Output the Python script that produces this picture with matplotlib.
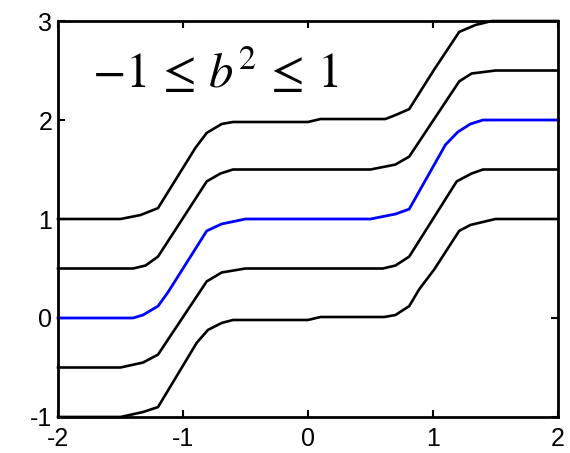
import matplotlib.pyplot as plt

plt.rcParams['font.family'] = 'Liberation Sans'
plt.rcParams['axes.unicode_minus'] = False
plt.rcParams['mathtext.fontset'] = 'stix'

# five staircase curves, offsets 1, 0.5, 0, -0.5, -1
x_top = [-2, -1.5, -1.34, -1.2, -0.9, -0.81, -0.69, -0.6, 0.0, 0.1, 0.62, 0.7, 0.81, 1.01, 1.21, 1.34, 1.47, 2]
y_top = [1, 1, 1.04, 1.11, 1.72, 1.87, 1.96, 1.98, 1.98, 2.01, 2.01, 2.05, 2.11, 2.51, 2.89, 2.96, 3.0, 3.0]

x_up = [-2, -1.4, -1.3, -1.2, -0.81, -0.7, -0.6, 0.5, 0.7, 0.81, 1.21, 1.31, 1.5, 2]
y_up = [0.5, 0.5, 0.53, 0.62, 1.38, 1.46, 1.5, 1.5, 1.55, 1.63, 2.39, 2.47, 2.5, 2.5]

x_mid = [-2, -1.4, -1.32, -1.2, -1.12, -0.81, -0.69, -0.5, 0.5, 0.7, 0.81, 1.1, 1.2, 1.3, 1.4, 2]
y_mid = [0, 0, 0.03, 0.12, 0.26, 0.88, 0.95, 1.0, 1.0, 1.05, 1.1, 1.75, 1.88, 1.96, 2.0, 2.0]

x_dn = [-2, -1.5, -1.32, -1.2, -0.81, -0.69, -0.5, 0.6, 0.7, 0.81, 1.19, 1.31, 1.4, 2]
y_dn = [-0.5, -0.5, -0.45, -0.37, 0.37, 0.46, 0.5, 0.5, 0.53, 0.62, 1.38, 1.46, 1.5, 1.5]

x_bot = [-2, -1.5, -1.32, -1.2, -0.89, -0.8, -0.69, -0.6, 0.0, 0.1, 0.61, 0.7, 0.81, 0.89, 1.01, 1.21, 1.3, 1.5, 2]
y_bot = [-1, -1, -0.95, -0.9, -0.25, -0.12, -0.05, -0.02, -0.02, 0.01, 0.01, 0.03, 0.12, 0.29, 0.49, 0.88, 0.94, 1.0, 1.0]

xticks = [-2, -1, 0, 1, 2]
yticks = [-1, 0, 1, 2, 3]

fig = plt.figure(figsize=(5.7, 4.53), dpi=100)
ax = fig.add_axes([0.1018, 0.0795, 0.877, 0.8741])

for xs, ys in [(x_top, y_top), (x_up, y_up), (x_dn, y_dn), (x_bot, y_bot)]:
    ax.plot(xs, ys, color='black', lw=1.9, clip_on=False)
ax.plot(x_mid, y_mid, color='#0000ff', lw=2.0, clip_on=False)

ax.text(-1.73, 2.33, r'$-1\,\leq\,b^{2}\,\leq\,1$', fontsize=35, va='baseline', ha='left')

ax.set_xlim(-2, 2)
ax.set_ylim(-1, 3)
ax.set_xticks(xticks)
ax.set_yticks(yticks)
ax.set_xticklabels([str(t) for t in xticks])
ax.set_yticklabels([str(t) for t in yticks])
ax.tick_params(direction='in', length=5, width=1.5, labelsize=18,
               top=True, right=True)
ax.tick_params(axis='x', pad=7)
ax.tick_params(axis='y', pad=4)
for s in ax.spines.values():
    s.set_linewidth(2)

fig.savefig('out.png', dpi=100)
